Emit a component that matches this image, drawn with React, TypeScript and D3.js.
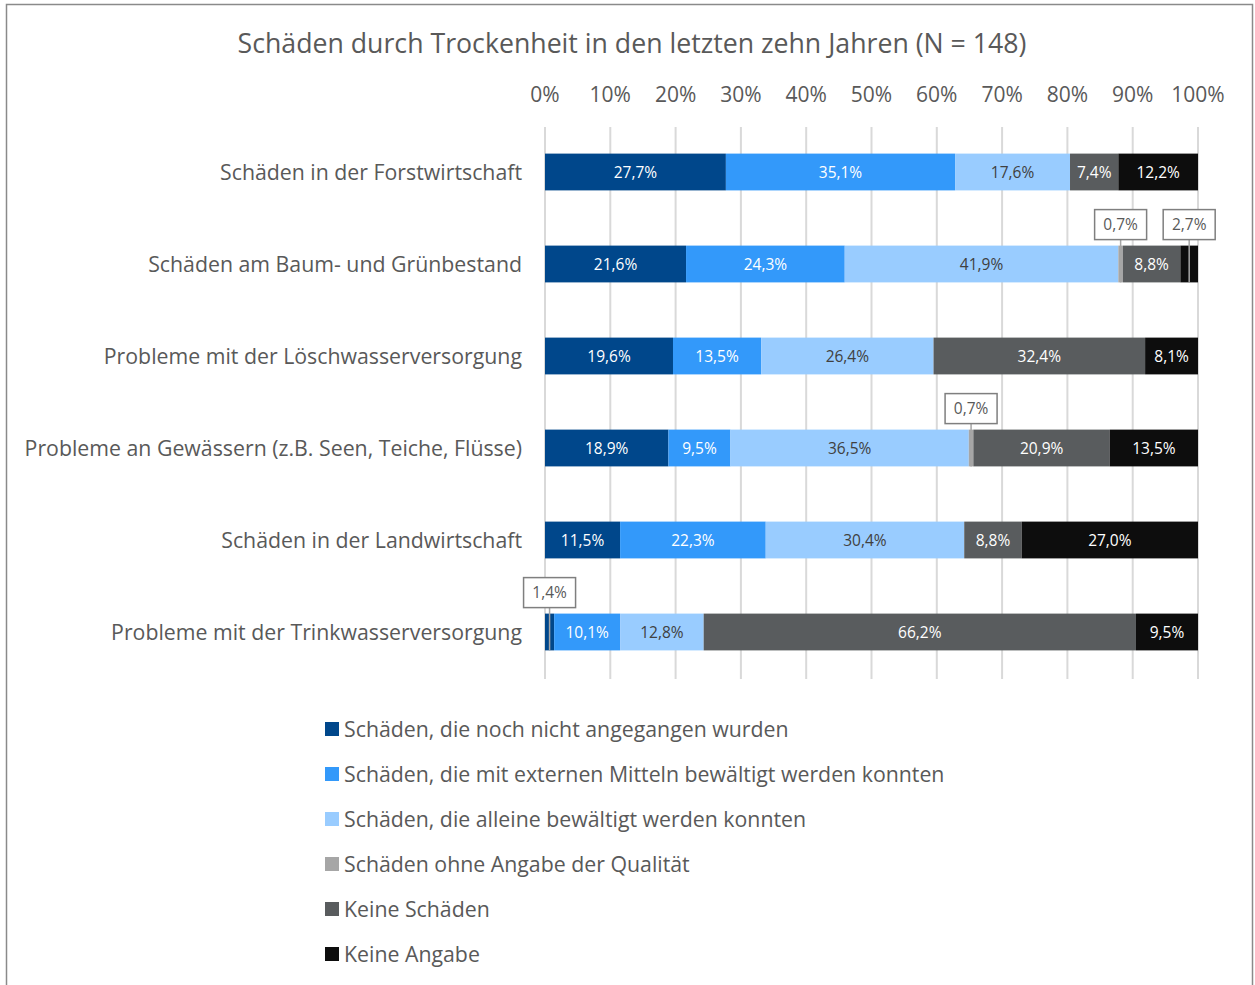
import React from "react";
import * as d3 from "d3";

const categories = [
  "Schäden in der Forstwirtschaft",
  "Schäden am Baum- und Grünbestand",
  "Probleme mit der Löschwasserversorgung",
  "Probleme an Gewässern (z.B. Seen, Teiche, Flüsse)",
  "Schäden in der Landwirtschaft",
  "Probleme mit der Trinkwasserversorgung",
];

const seriesNames = [
  "Schäden, die noch nicht angegangen wurden",
  "Schäden, die mit externen Mitteln bewältigt werden konnten",
  "Schäden, die alleine bewältigt werden konnten",
  "Schäden ohne Angabe der Qualität",
  "Keine Schäden",
  "Keine Angabe",
];

const notYet = [27.7, 21.6, 19.6, 18.9, 11.5, 1.4];
const external = [35.1, 24.3, 13.5, 9.5, 22.3, 10.1];
const alone = [17.6, 41.9, 26.4, 36.5, 30.4, 12.8];
const noQuality = [0, 0.7, 0, 0.7, 0, 0];
const noDamage = [7.4, 8.8, 32.4, 20.9, 8.8, 66.2];
const noAnswer = [12.2, 2.7, 8.1, 13.5, 27.0, 9.5];

const seriesValues = [notYet, external, alone, noQuality, noDamage, noAnswer];
const ticks = [0, 10, 20, 30, 40, 50, 60, 70, 80, 90, 100];

const colors = ["#00478b", "#3399fa", "#99ccff", "#a6a6a6", "#595c5e", "#0d0d0d"];
const textColors = ["#ffffff", "#ffffff", "#404040", "#404040", "#ffffff", "#ffffff"];

// which small values are shown as callouts: [seriesIndex, categoryIndex]
const callouts: [number, number][] = [
  [3, 1],
  [5, 1],
  [3, 3],
  [0, 5],
];

const fmt = (v: number) => v.toFixed(1).replace(".", ",") + "%";

export default function App() {
  const W = 1255, H = 985;
  const x = d3.scaleLinear().domain([0, 100]).range([545, 1198]);
  const y = d3.scaleBand<string>().domain(categories).range([126, 678]).paddingInner(0.6).paddingOuter(0.3);
  const font = "'Open Sans', 'Noto Sans', sans-serif";
  const grey = "#595959";

  const stacked = categories.map((_, ci) => {
    let acc = 0;
    return seriesValues.map((s, si) => {
      const v = s[ci];
      const seg = { si, ci, v, x0: acc, x1: acc + v };
      acc += v;
      return seg;
    });
  });

  const isCallout = (si: number, ci: number) => callouts.some(([a, b]) => a === si && b === ci);
  const bh = y.bandwidth();

  return (
    <svg width={W} height={H} style={{ position: "absolute", left: 0, top: 0, background: "#fff" }} fontFamily={font}>
      <rect x={6.5} y={4.5} width={1246} height={990} fill="#fff" stroke="#8a8a8a" strokeWidth={1.5} />
      <text x={632} y={53} textAnchor="middle" fontSize={26.7} fill={grey}>
        Schäden durch Trockenheit in den letzten zehn Jahren (N = 148)
      </text>
      {ticks.map((t) => (
        <g key={t}>
          <line x1={x(t)} x2={x(t)} y1={127} y2={679} stroke="#d9d9d9" strokeWidth={2} />
          <text x={x(t)} y={102} textAnchor="middle" fontSize={21} fill={grey}>
            {t}%
          </text>
        </g>
      ))}
      {categories.map((c) => (
        <text key={c} x={522} y={(y(c) as number) + bh / 2 + 7.5} textAnchor="end" fontSize={21.3} fill={grey}>
          {c}
        </text>
      ))}
      {stacked.map((row) =>
        row.map((seg) =>
          seg.v > 0 ? (
            <rect
              key={`${seg.ci}-${seg.si}`}
              x={x(seg.x0)}
              width={x(seg.x1) - x(seg.x0)}
              y={y(categories[seg.ci]) as number}
              height={bh}
              fill={colors[seg.si]}
            />
          ) : null
        )
      )}
      {stacked.map((row) =>
        row.map((seg) =>
          seg.v > 0 && !isCallout(seg.si, seg.ci) ? (
            <text
              key={`t${seg.ci}-${seg.si}`}
              x={(x(seg.x0) + x(seg.x1)) / 2}
              y={(y(categories[seg.ci]) as number) + bh / 2 + 5.5}
              textAnchor="middle"
              fontSize={15.5}
              fill={textColors[seg.si]}
            >
              {fmt(seg.v)}
            </text>
          ) : null
        )
      )}
      {callouts.map(([si, ci]) => {
        const seg = stacked[ci][si];
        const cx = (x(seg.x0) + x(seg.x1)) / 2;
        const top = y(categories[ci]) as number;
        const by = top - 36;
        return (
          <g key={`c${si}-${ci}`}>
            <line x1={cx} x2={cx} y1={by + 30} y2={top + bh} stroke="#a6a6a6" strokeWidth={1.5} />
            <rect x={cx - 26} y={by} width={52} height={30} fill="#fff" stroke="#7f7f7f" strokeWidth={1.5} />
            <text x={cx} y={by + 20.5} textAnchor="middle" fontSize={15.5} fill={grey}>
              {fmt(seg.v)}
            </text>
          </g>
        );
      })}
      {seriesNames.map((n, i) => (
        <g key={n}>
          <rect x={325} y={722 + i * 45} width={14} height={14} fill={colors[i]} />
          <text x={344} y={736.5 + i * 45} fontSize={21.3} fill={grey}>
            {n}
          </text>
        </g>
      ))}
    </svg>
  );
}
